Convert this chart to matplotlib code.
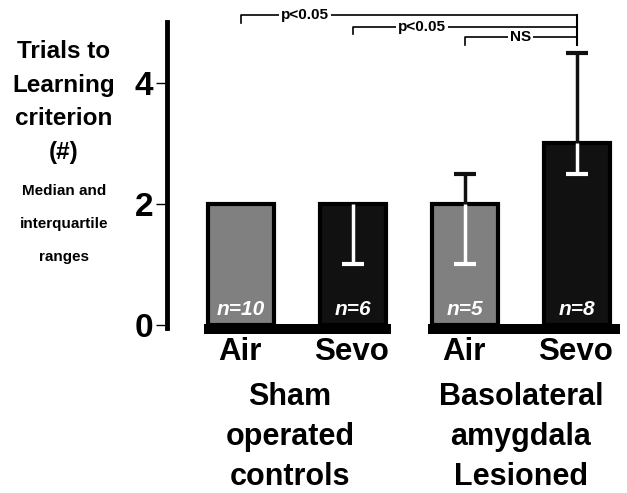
import numpy as np
import matplotlib
matplotlib.use('Agg')
import matplotlib.pyplot as plt

plt.rcParams['font.family'] = ['Liberation Sans', 'DejaVu Sans']

# data: medians and interquartile ranges
conditions = ['Air', 'Sevo', 'Air', 'Sevo']
groups = ['Sham\noperated\ncontrols', 'Basolateral\namygdala\nLesioned']
medians = np.array([2, 2, 2, 3])
q1 = np.array([2, 1, 1, 2.5])
q3 = np.array([2, 2, 2.5, 4.5])
n_labels = ['n=10', 'n=6', 'n=5', 'n=8']
bar_colors = ['#808080', '#111111', '#808080', '#111111']

# significance comparisons: (left bar, right bar, label, level, label pos fraction)
comparisons = [(0, 3, 'p<0.05', 5.12, 0.19),
               (1, 3, 'p<0.05', 4.93, 0.31),
               (2, 3, 'NS', 4.75, 0.5)]

x = np.arange(len(medians))
w = 0.59

fig = plt.figure(figsize=(6.27, 4.93), dpi=100)
ax = fig.add_axes([0.2663, 0.3225, 0.7337, 0.669])

ax.bar(x, medians, width=w, color=bar_colors, edgecolor='black', linewidth=3, zorder=2)

# black platform under each group
for g in range(2):
    i0, i1 = 2 * g, 2 * g + 1
    left = x[i0] - w / 2 - 0.03
    right = x[i1] + w / 2 + 0.05 + 0.04 * g
    ax.bar((left + right) / 2, 0.19, width=right - left, bottom=-0.17,
           color='black', linewidth=0, zorder=3)

# error bars: upper part black, lower part white (cap only at the far end)
for i in range(len(x)):
    if q3[i] > medians[i]:
        eb = ax.errorbar(x[i], medians[i], yerr=[[0], [q3[i] - medians[i]]], fmt='none',
                         ecolor='#111111', elinewidth=2.5, capsize=8, capthick=3, zorder=4)
        eb[1][0].set_visible(False)
    if q1[i] < medians[i]:
        eb = ax.errorbar(x[i], medians[i], yerr=[[medians[i] - q1[i]], [0]], fmt='none',
                         ecolor='white', elinewidth=2.5, capsize=8, capthick=3, zorder=4)
        eb[1][1].set_visible(False)

for i, lab in enumerate(n_labels):
    ax.text(x[i], 0.26, lab, color='white', fontsize=15, fontweight='bold',
            fontstyle='italic', ha='center', va='center', zorder=5)

# significance brackets
for a, b, lab, lev, frac in comparisons:
    ax.plot([x[a], x[a], x[b]], [lev - 0.13, lev, lev], color='black', lw=1.2,
            clip_on=False, zorder=1)
    tx = x[a] + frac * (x[b] - x[a])
    ax.text(tx, lev, lab, fontsize=11, fontweight='bold', ha='center', va='center',
            bbox=dict(facecolor='white', edgecolor='none', pad=1.5), clip_on=False, zorder=2)
ax.plot([x[3], x[3]], [comparisons[0][3], 4.62], color='black', lw=1.5, clip_on=False, zorder=1)

ax.set_xlim(-0.66, 3.45)
ax.set_ylim(-0.15, 5.3)
ax.set_yticks([0, 2, 4])
ax.set_yticklabels(['0', '2', '4'], fontsize=24, fontweight='bold')
ax.tick_params(axis='y', length=8, width=1, pad=2)
ax.set_xticks([])
for s in ['top', 'right', 'bottom']:
    ax.spines[s].set_visible(False)
ax.spines['left'].set_linewidth(3.5)
ax.spines['left'].set_bounds(-0.05, 5.0)

# x labels
for i, c in enumerate(conditions):
    fig.text((240 + 112 * i) / 627, 1 - 352 / 493, c, fontsize=22.5, fontweight='bold',
             ha='center', va='center')
for g, lab in enumerate(groups):
    fig.text((290 + 231 * g) / 627, 1 - 437 / 493, lab, fontsize=22, fontweight='bold',
             ha='center', va='center', linespacing=1.42)

# y label
fig.text(64 / 627, 1 - 102 / 493, 'Trials to\nLearning\ncriterion\n(#)', fontsize=17.5,
         fontweight='bold', ha='center', va='center', linespacing=1.58)
fig.text(64 / 627, 1 - 224 / 493, 'Median and\ninterquartile\nranges', fontsize=11,
         fontweight='bold', ha='center', va='center', linespacing=2.7)

fig.savefig('out.png', dpi=100)
